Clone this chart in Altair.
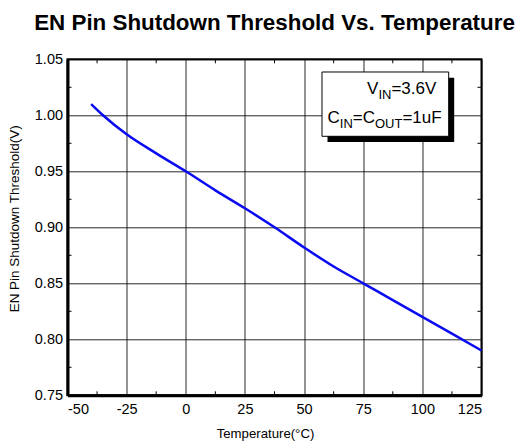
import altair as alt
import pandas as pd

# ---- data ----
temps = [-40, -35, -25, -12.5, 0, 12.5, 25, 37.5, 50, 62.5, 75, 87.5, 100, 112.5, 125]
thresholds = [1.010, 1.000, 0.983, 0.966, 0.950, 0.933, 0.917, 0.900, 0.882,
              0.865, 0.850, 0.835, 0.820, 0.805, 0.790]

x_major = [-50, -25, 0, 25, 50, 75, 100, 125]
x_minor = [-37.5, -12.5, 12.5, 37.5, 62.5, 87.5, 112.5]
y_major = [0.75, 0.80, 0.85, 0.90, 0.95, 1.00, 1.05]
y_minor = [0.775, 0.825, 0.875, 0.925, 0.975, 1.025]

FONT = "Liberation Sans"
W, H = 414, 336

df = pd.DataFrame({"temp": temps, "vth": thresholds})
xminor_df = pd.DataFrame({"t": x_minor})
yminor_df = pd.DataFrame({"v": y_minor})

xscale = alt.Scale(domain=[-50, 125], nice=False, zero=False)
yscale = alt.Scale(domain=[0.75, 1.05], nice=False, zero=False)

line = alt.Chart(df).mark_line(color="#0b0bf2", strokeWidth=2.5, interpolate="monotone").encode(
    x=alt.X("temp:Q", scale=xscale,
            axis=alt.Axis(values=x_major, labelExpr="'' + datum.value", title="Temperature(°C)",
                          grid=True, ticks=False, domain=True, domainColor="black", domainWidth=3,
                          labelFontSize=14.5, labelPadding=7, labelColor="black", labelFont=FONT,
                          titleFont=FONT, titleFontSize=13.2, titleFontWeight="normal", titleColor="black",
                          titlePadding=12, titleX=197.5,
                          gridColor="black", gridOpacity=0.85, gridWidth=1)),
    y=alt.Y("vth:Q", scale=yscale,
            axis=alt.Axis(values=y_major, format=".2f", title="EN Pin Shutdown Threshold(V)",
                          grid=True, ticks=False, domain=True, domainColor="black", domainWidth=3,
                          labelFontSize=14.5, labelPadding=5, labelColor="black", labelFont=FONT,
                          titleFont=FONT, titleFontSize=13.5, titleFontWeight="normal", titleColor="black",
                          titlePadding=13, titleY=159,
                          gridColor="black", gridOpacity=0.85, gridWidth=1)),
)

TL = 4
bot_ticks = alt.Chart(xminor_df).mark_rule(color="black", strokeWidth=1).encode(
    x=alt.X("t:Q", scale=xscale), y=alt.value(H), y2=alt.value(H - TL))
top_ticks = alt.Chart(xminor_df).mark_rule(color="black", strokeWidth=1).encode(
    x=alt.X("t:Q", scale=xscale), y=alt.value(0), y2=alt.value(TL))
left_ticks = alt.Chart(yminor_df).mark_rule(color="black", strokeWidth=1).encode(
    y=alt.Y("v:Q", scale=yscale), x=alt.value(0), x2=alt.value(TL))
right_ticks = alt.Chart(yminor_df).mark_rule(color="black", strokeWidth=1).encode(
    y=alt.Y("v:Q", scale=yscale), x=alt.value(W), x2=alt.value(W - TL))

one = alt.Data(values=[{"k": 1}])

# annotation box (pixel positions inside the plot area)
bx0, bx1, by0, by1 = 254.5, 381.2, 12.7, 77.0
shadow = alt.Chart(one).mark_rect(color="black").encode(
    x=alt.value(bx0 + 5.5), x2=alt.value(bx1 + 5.5), y=alt.value(by0 + 5.7), y2=alt.value(by1 + 5.7))
box = alt.Chart(one).mark_rect(fill="white", stroke="black", strokeWidth=1).encode(
    x=alt.value(bx0), x2=alt.value(bx1), y=alt.value(by0), y2=alt.value(by1))


def txt(s, x, y, size):
    return alt.Chart(one).mark_text(align="left", baseline="alphabetic", font=FONT,
                                    fontSize=size, color="black").encode(
        x=alt.value(x), y=alt.value(y), text=alt.value(s))


MAIN, SUB = 17, 13
labels = [
    txt("V", 299.6, 34.7, MAIN), txt("IN", 310.9, 39.7, SUB), txt("=3.6V", 323.9, 34.7, MAIN),
    txt("C", 260.0, 63.7, MAIN), txt("IN", 272.3, 68.7, SUB), txt("=C", 285.3, 63.7, MAIN),
    txt("OUT", 307.5, 68.7, SUB), txt("=1uF", 334.9, 63.7, MAIN),
]

chart = alt.layer(line, bot_ticks, top_ticks, left_ticks, right_ticks, shadow, box, *labels).properties(
    width=W, height=H,
    title=alt.TitleParams("EN Pin Shutdown Threshold Vs. Temperature", font=FONT, fontSize=22.4,
                          fontWeight="bold", color="black", anchor="middle", frame="group", offset=17),
    padding={"left": 59.5, "top": 51.3, "right": 40.5, "bottom": 48},
    autosize=alt.AutoSizeParams(type="none"),
).configure_view(stroke="black", strokeWidth=2)

chart.save("out.html", embed_options={"renderer": "svg", "actions": False})
